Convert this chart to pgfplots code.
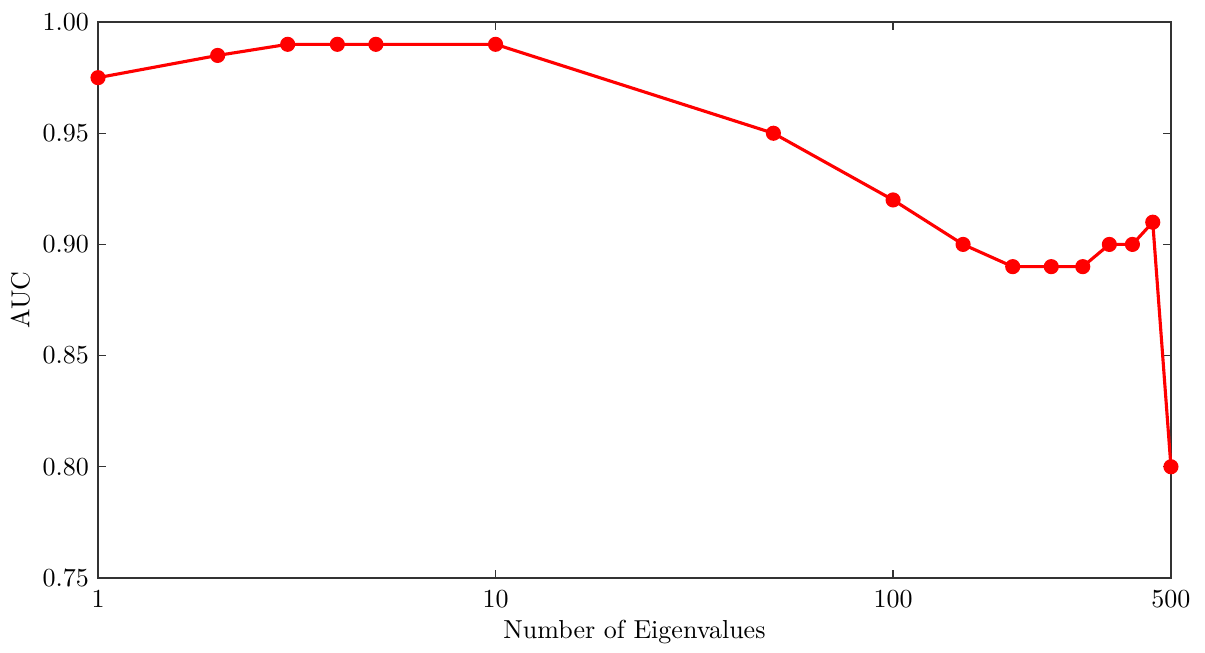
\documentclass[border=0pt]{standalone}
\usepackage{pgfplots}
\pgfplotsset{compat=1.18}

\begin{document}
\begin{tikzpicture}
  \begin{axis}[
    xmode=log,
    scale only axis,
    width=412.7pt, height=213.8pt,
    xmin=1, xmax=500,
    ymin=0.75, ymax=1.00,
    xtick={1,10,100,500},
    xticklabels={1,10,100,500},
    minor xtick={},
    ytick={0.75,0.80,0.85,0.90,0.95,1.00},
    yticklabel style={/pgf/number format/.cd, fixed, fixed zerofill, precision=2},
    tick align=inside,
    major tick length=3pt,
    tick style={black!80, line width=0.5pt},
    axis line style={black!80, line width=0.8pt},
    xlabel={Number of Eigenvalues},
    ylabel={AUC},
    xlabel style={yshift=2pt},
    ylabel style={yshift=-2pt},
    xticklabel style={yshift=-1pt},
    clip=false,
  ]
  \addplot[red, line width=1.2pt, mark=*, mark size=2.3pt, mark options={fill=red, draw=red}]
    coordinates {
      (1,0.975) (2,0.985) (3,0.99) (4,0.99) (5,0.99) (10,0.99)
      (50,0.95) (100,0.92) (150,0.90) (200,0.89) (250,0.89) (300,0.89)
      (350,0.90) (400,0.90) (450,0.91) (500,0.80)
    };
  \end{axis}
  \useasboundingbox (current axis.south west) ++(-37.7pt,-26.2pt) rectangle ([xshift=13.1pt,yshift=8.5pt]current axis.north east);
\end{tikzpicture}
\end{document}
